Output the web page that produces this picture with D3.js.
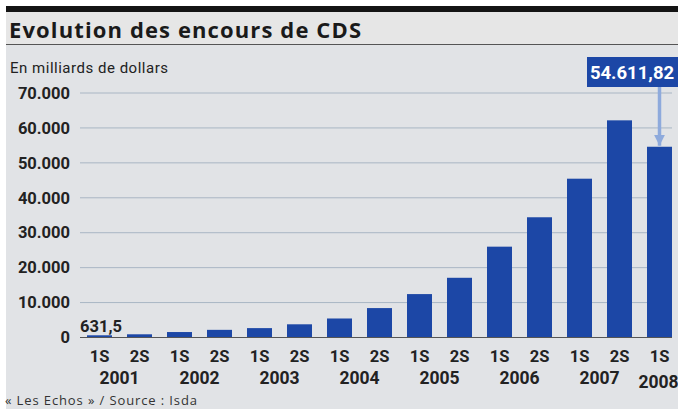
<!DOCTYPE html>
<html>
<head>
<meta charset="utf-8">
<script src="https://cdn.jsdelivr.net/npm/d3@7"></script>
<style>
  body { margin: 0; background: #fff; }
  svg { display: block; }
  .narrow { font-family: Roboto, "Liberation Sans", sans-serif; }
</style>
</head>
<body>
<svg id="chart" width="678" height="409"></svg>
<script>
// data (ISDA, billions of dollars)
var half = ["1S", "2S", "1S", "2S", "1S", "2S", "1S", "2S", "1S", "2S", "1S", "2S", "1S", "2S", "1S"];
var years = ["2001", "2001", "2002", "2002", "2003", "2003", "2004", "2004", "2005", "2005", "2006", "2006", "2007", "2007", "2008"];
var values = [631.5, 918.9, 1563.5, 2191.6, 2687.9, 3779.4, 5441.9, 8422.3, 12429.9, 17096.1, 26005.6, 34422.8, 45464.5, 62173.2, 54611.8];
var yTicks = [0, 10000, 20000, 30000, 40000, 50000, 60000, 70000];
var yearLabels = ["2001", "2002", "2003", "2004", "2005", "2006", "2007", "2008"];

var svg = d3.select("#chart");
var keys = d3.range(values.length);

var x = d3.scaleBand()
    .domain(keys)
    .range([79.5, 679.5])
    .paddingInner(0.375)
    .paddingOuter(0.1875);

var y = d3.scaleLinear()
    .domain([0, 70000])
    .range([337.5, 93]);

// backgrounds
svg.append("rect").attr("x", 6).attr("y", 0).attr("width", 672).attr("height", 409).attr("fill", "#e1e3e6");
svg.append("rect").attr("x", 6).attr("y", 12).attr("width", 672).attr("height", 32).attr("fill", "#e6e6e6");
svg.append("rect").attr("x", 6).attr("y", 6).attr("width", 672).attr("height", 6).attr("fill", "#141414");
svg.append("rect").attr("x", 0).attr("y", 0).attr("width", 678).attr("height", 6).attr("fill", "#fff");
svg.append("line").attr("x1", 6).attr("x2", 678).attr("y1", 44.5).attr("y2", 44.5)
    .attr("stroke", "#555").attr("stroke-width", 1.2);

svg.append("text")
    .attr("x", 9).attr("y", 38)
    .attr("font-family", "'Open Sans', sans-serif")
    .attr("font-weight", "bold")
    .attr("font-size", 22)
    .attr("fill", "#1a1a1a")
    .attr("textLength", 352)
    .text("Evolution des encours de CDS");

svg.append("text")
    .attr("class", "narrow")
    .attr("x", 10).attr("y", 73)
    .attr("font-size", 15)
    .attr("fill", "#222")
    .attr("textLength", 158)
    .text("En milliards de dollars");

// grid + y axis
var yAxis = d3.axisLeft(y)
    .tickValues(yTicks)
    .tickSize(0)
    .tickPadding(10)
    .tickFormat(function(d) { return d === 0 ? "0" : d3.format(",")(d).replace(/,/g, "."); });

var gy = svg.append("g")
    .attr("transform", "translate(80,0)")
    .call(yAxis);
gy.select(".domain").remove();
gy.selectAll("text")
    .attr("class", "narrow")
    .attr("font-size", 16.5)
    .attr("font-weight", "bold")
    .attr("fill", "#222");

svg.append("g").selectAll("line")
    .data(yTicks.slice(1))
    .enter().append("line")
    .attr("x1", 80).attr("x2", 672)
    .attr("y1", function(d) { return y(d); })
    .attr("y2", function(d) { return y(d); })
    .attr("stroke", "#a9b6c4")
    .attr("stroke-width", 1);

// bars
svg.append("g").selectAll("rect")
    .data(values)
    .enter().append("rect")
    .attr("x", function(d, i) { return x(i); })
    .attr("width", x.bandwidth())
    .attr("y", function(d) { return y(d); })
    .attr("height", function(d) { return y(0) - y(d); })
    .attr("fill", "#1c47a6");

svg.append("line")
    .attr("x1", 80).attr("x2", 672)
    .attr("y1", y(0)).attr("y2", y(0))
    .attr("stroke", "#555").attr("stroke-width", 1.2);

// half-year labels
svg.append("g").selectAll("text")
    .data(half)
    .enter().append("text")
    .attr("class", "narrow")
    .attr("x", function(d, i) { return x(i) + x.bandwidth() / 2; })
    .attr("y", 362)
    .attr("text-anchor", "middle")
    .attr("font-size", 16.5)
    .attr("font-weight", "bold")
    .attr("fill", "#222")
    .text(function(d) { return d; });

// year labels, centred under their bars
svg.append("g").selectAll("text")
    .data(yearLabels)
    .enter().append("text")
    .attr("class", "narrow")
    .attr("x", function(yr) {
        var idx = years.map(function(v, i) { return v === yr ? i : -1; }).filter(function(i) { return i >= 0; });
        return d3.mean(idx, function(i) { return x(i) + x.bandwidth() / 2; }) - (yr === "2008" ? 1 : 0);
    })
    .attr("y", function(yr) { return yr === "2008" ? 388 : 384; })
    .attr("text-anchor", "middle")
    .attr("font-size", 17.5)
    .attr("font-weight", "bold")
    .attr("fill", "#222")
    .text(function(d) { return d; });

// first value label
svg.append("text")
    .attr("class", "narrow")
    .attr("x", x(0) - 7).attr("y", 332)
    .attr("font-size", 16.5)
    .attr("font-weight", "bold")
    .attr("fill", "#222")
    .text(d3.format(".1f")(values[0]).replace(".", ","));

// last value callout
var last = values.length - 1;
var cx = x(last) + x.bandwidth() / 2;
svg.append("defs").append("marker")
    .attr("id", "arr")
    .attr("viewBox", "0 0 10 10")
    .attr("refX", 10).attr("refY", 5)
    .attr("markerWidth", 3.2).attr("markerHeight", 3.2)
    .attr("markerUnits", "strokeWidth")
    .attr("orient", "auto")
    .append("path").attr("d", "M0,0L10,5L0,10z").attr("fill", "#8eaadc");

svg.append("line")
    .attr("x1", cx).attr("x2", cx)
    .attr("y1", 87).attr("y2", y(values[last]) - 1)
    .attr("stroke", "#8eaadc").attr("stroke-width", 3.5)
    .attr("marker-end", "url(#arr)");

svg.append("rect")
    .attr("x", 587).attr("y", 57)
    .attr("width", 91).attr("height", 30)
    .attr("fill", "#1c47a6");

svg.append("text")
    .attr("class", "narrow")
    .attr("x", 632).attr("y", 79)
    .attr("text-anchor", "middle")
    .attr("font-size", 18.5)
    .attr("font-weight", "bold")
    .attr("fill", "#fff")
    .text("54.611,82");

// source
svg.append("text")
    .attr("x", 5).attr("y", 405)
    .attr("font-family", "'Open Sans', sans-serif")
    .attr("font-size", 13)
    .attr("fill", "#333")
    .attr("textLength", 192)
    .text("« Les Echos » / Source : Isda");
</script>
</body>
</html>
